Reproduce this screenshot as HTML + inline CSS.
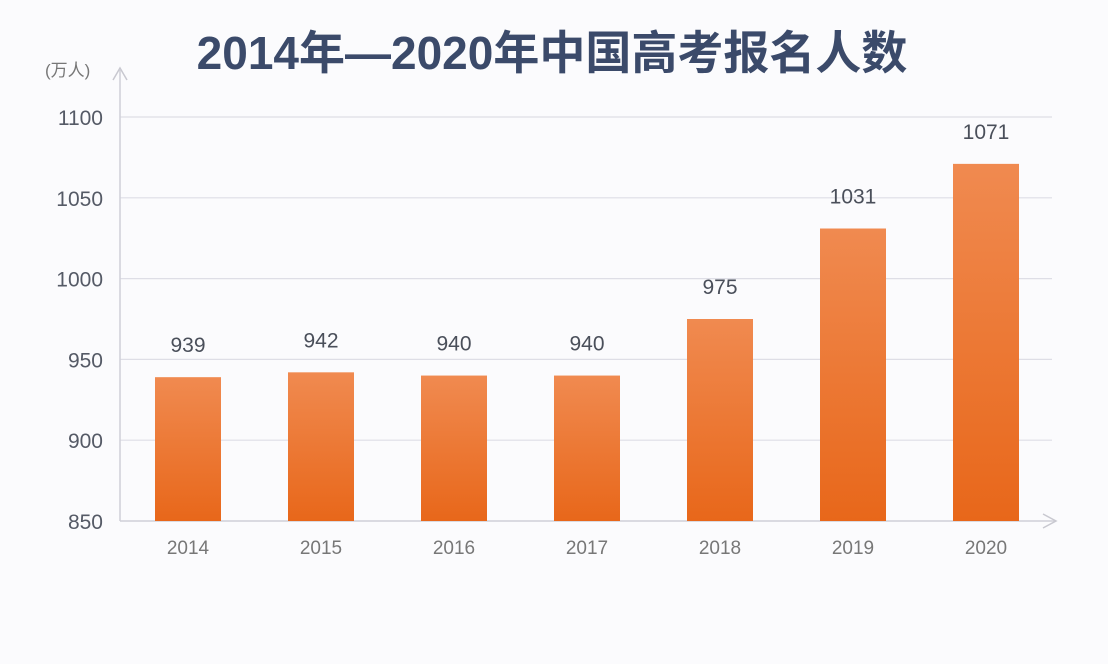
<!DOCTYPE html>
<html><head><meta charset="utf-8"><style>
body{margin:0;background:#fbfbfd;}
svg{display:block;font-family:"Liberation Sans","Noto Sans CJK SC",sans-serif;}
</style></head><body>
<svg id="c" width="1108" height="664" viewBox="0 0 1108 664" xmlns="http://www.w3.org/2000/svg">
<defs><linearGradient id="g" x1="0" y1="0" x2="0" y2="1"><stop offset="0" stop-color="#f08a50"/><stop offset="1" stop-color="#e8671a"/></linearGradient></defs>
<text x="552" y="69" text-anchor="middle" font-size="46" font-weight="bold" fill="#3b4a6a" font-family="Liberation Sans, Noto Sans CJK SC, sans-serif">2014年—2020年中国高考报名人数</text>
<text x="45" y="76" font-size="17" fill="#777">(万人)</text>
<g id="grid"></g>
<line x1="120" y1="70" x2="120" y2="521" stroke="#d0d0d8" stroke-width="1.5"/>
<polyline points="113,80 120,68 127,80" fill="none" stroke="#c8c8d0" stroke-width="1.5"/>
<line x1="120" y1="521" x2="1055" y2="521" stroke="#d0d0d8" stroke-width="1.5"/>
<polyline points="1043,514 1056,521 1043,528" fill="none" stroke="#c8c8d0" stroke-width="1.5"/>
<g id="bars"></g>
</svg>
<script>
const categories=["2014","2015","2016","2017","2018","2019","2020"];
const values=[939,942,940,940,975,1031,1071];
const yTicks=[850,900,950,1000,1050,1100];
const yMin=850,yMax=1100,yTop=117,yBot=521;
const ns="http://www.w3.org/2000/svg";
function y(v){return yBot-(v-yMin)/(yMax-yMin)*(yBot-yTop);}
function x(i){return 188+i*133;}
function mk(t,a,p){const e=document.createElementNS(ns,t);for(const k in a)e.setAttribute(k,a[k]);p.appendChild(e);return e;}
const grid=document.getElementById('grid'),bars=document.getElementById('bars');
yTicks.forEach(v=>{
  if(v>yMin){const l=mk('line',{x1:120,x2:1052,y1:y(v),y2:y(v),stroke:'#dedee6','stroke-width':1.2},grid);
  
  }
  const t=mk('text',{x:103,y:y(v)+8,'text-anchor':'end','font-size':21,fill:'#555a66'},grid);
  t.textContent=v;
  
  
});
categories.forEach((c,i)=>{
  const r=mk('rect',{x:x(i)-33,y:y(values[i]),width:66,height:yBot-y(values[i]),fill:'url(#g)'},bars);
  
  
  const vl=mk('text',{x:x(i),y:y(values[i])-25,'text-anchor':'middle','font-size':21,fill:'#4a4f5a'},bars);
  vl.textContent=values[i];
  
  
  const xl=mk('text',{x:x(i),y:554,'text-anchor':'middle','font-size':19,fill:'#777'},bars);
  xl.textContent=c;
  
  
});
</script>
</body></html>
